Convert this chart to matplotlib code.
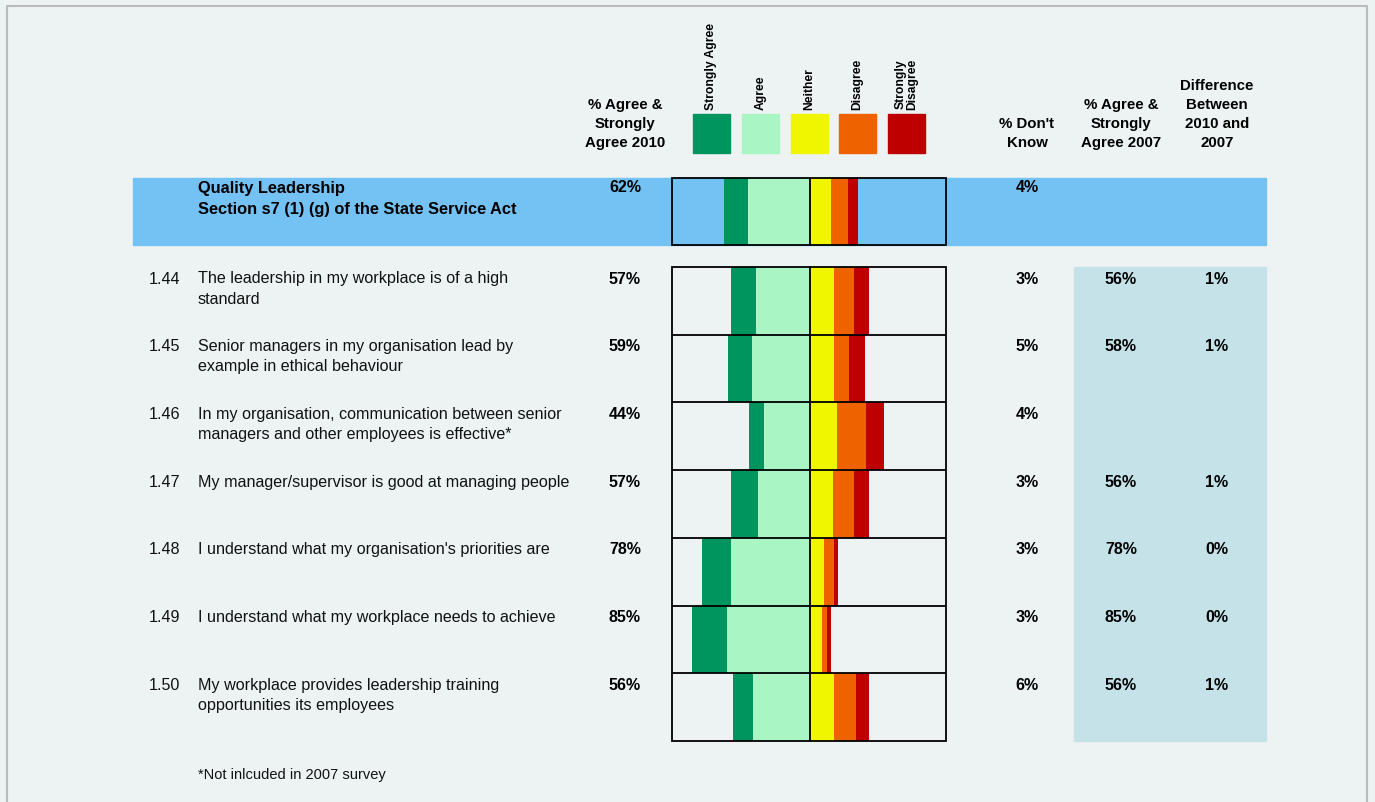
import matplotlib
matplotlib.use("Agg")
import matplotlib.pyplot as plt
from matplotlib.patches import Rectangle
import matplotlib.transforms as mtransforms

plt.rcParams['font.family'] = ['Liberation Sans', 'DejaVu Sans']

# Data
section_title = "Quality Leadership\nSection s7 (1) (g) of the State Service Act"
section_agree_2010 = 62
section_dont_know = 4
section_parts = [17, 45, 15, 12, 7]  # SA, A, N, D, SD

codes = ["1.44", "1.45", "1.46", "1.47", "1.48", "1.49", "1.50"]
questions = [
    "The leadership in my workplace is of a high\nstandard",
    "Senior managers in my organisation lead by\nexample in ethical behaviour",
    "In my organisation, communication between senior\nmanagers and other employees is effective*",
    "My manager/supervisor is good at managing people",
    "I understand what my organisation's priorities are",
    "I understand what my workplace needs to achieve",
    "My workplace provides leadership training\nopportunities its employees",
]
agree_2010 = [57, 59, 44, 57, 78, 85, 56]
dont_know = [3, 5, 4, 3, 3, 3, 6]
agree_2007 = [56, 58, None, 56, 78, 85, 56]
difference = [1, 1, None, 1, 0, 0, 1]

strongly_agree = [18, 17, 11, 19, 21, 25, 15]
agree = [39, 42, 33, 38, 57, 60, 41]
neither = [17, 17, 19, 16, 10, 8, 17]
disagree = [14, 11, 21, 15, 7, 4, 16]
strongly_disagree = [11, 11, 13, 11, 3, 3, 9]

legend_labels = ["Strongly Agree", "Agree", "Neither", "Disagree", "Strongly\nDisagree"]
colors = ["#00955F", "#A9F5C4", "#F0F500", "#EE6200", "#BE0000"]
footnote = "*Not inlcuded in 2007 survey"

# Layout (pixels)
W, H = 1375, 802
bg = "#EDF3F3"
box_left, box_right = 672, 946
head_top, head_bot = 178, 245
rows_top, rows_bot = 267, 741
row_h = (rows_bot - rows_top) / len(codes)

fig = plt.figure(figsize=(W / 100, H / 100), dpi=100)
fig.patch.set_facecolor(bg)

# page axes in pixel coordinates
pg = fig.add_axes([0, 0, 1, 1])
pg.set_xlim(0, W)
pg.set_ylim(H, 0)
pg.axis("off")

# page border
pg.plot([7, 7, 1367, 1367], [H, 6, 6, H], color="#BBBBBB", lw=1.5)

# section band and 2007 panel
pg.add_patch(Rectangle((133, head_top), 1266 - 133, head_bot - head_top, color="#74C1F3", zorder=1))
pg.add_patch(Rectangle((1074, rows_top), 1266 - 1074, rows_bot - rows_top, color="#C5E2E8", zorder=1))

fs_head = 10.8
fs_row = 11.6
fs_val = 11.5
ls_head = 1.46
ls_row = 1.43

# column headers
pg.text(625, 124, "% Agree &\nStrongly\nAgree 2010", ha="center", va="center", fontsize=fs_head,
        fontweight="bold", linespacing=ls_head)
pg.text(1027, 133.5, "% Don't\nKnow", ha="center", va="center", fontsize=fs_head,
        fontweight="bold", linespacing=ls_head)
pg.text(1121, 124, "% Agree &\nStrongly\nAgree 2007", ha="center", va="center", fontsize=fs_head,
        fontweight="bold", linespacing=ls_head)
pg.text(1217, 114.5, "Difference\nBetween\n2010 and\n2007", ha="center", va="center", fontsize=fs_head,
        fontweight="bold", linespacing=ls_head)

# legend swatches
sw_x = [693, 742, 791, 839, 888]
for x, c, lab in zip(sw_x, colors, legend_labels):
    pg.add_patch(Rectangle((x, 114), 37, 39, color=c, zorder=2))
    pg.text(x + 18.5, 110, lab, rotation=90, ha="center", va="bottom", fontsize=8.7,
            fontweight="bold", linespacing=1.0)

# section row text
pg.text(198, 199, section_title, ha="left", va="center", fontsize=11.8, fontweight="bold",
        linespacing=1.46, zorder=3)
pg.text(625, 188, f"{section_agree_2010}%", ha="center", va="center", fontsize=fs_val,
        fontweight="bold", zorder=3)
pg.text(1027, 188, f"{section_dont_know}%", ha="center", va="center", fontsize=fs_val,
        fontweight="bold", zorder=3)

# question rows text
for i, code in enumerate(codes):
    y = rows_top + i * row_h + 12
    pg.text(149, y, code, ha="left", va="center", fontsize=fs_row, color="#111111")
    n_lines = questions[i].count("\n") + 1
    pg.text(198, y + (n_lines - 1) * 10, questions[i], ha="left", va="center", fontsize=fs_row,
            color="#111111", linespacing=ls_row)
    pg.text(625, y, f"{agree_2010[i]}%", ha="center", va="center", fontsize=fs_val, fontweight="bold")
    pg.text(1027, y, f"{dont_know[i]}%", ha="center", va="center", fontsize=fs_val, fontweight="bold")
    if agree_2007[i] is not None:
        pg.text(1121, y, f"{agree_2007[i]}%", ha="center", va="center", fontsize=fs_val, fontweight="bold")
        pg.text(1217, y, f"{difference[i]}%", ha="center", va="center", fontsize=fs_val, fontweight="bold")

pg.text(198, 775, footnote, ha="left", va="center", fontsize=10.5, color="#111111")

# diverging bars
ax = fig.add_axes([box_left / W, (H - rows_bot) / H, (box_right - box_left) / W,
                   (rows_bot - head_top) / H])
ax.set_xlim(-99.5, 97.5)
ax.set_ylim(rows_bot, head_top)
ax.axis("off")
ax.patch.set_alpha(0)


def draw_row(yc, h, parts):
    sa, a, n, d, sd = parts
    ax.barh(yc, sa, left=-(sa + a), height=h, color=colors[0], lw=0)
    ax.barh(yc, a, left=-a, height=h, color=colors[1], lw=0)
    ax.barh(yc, n, left=0, height=h, color=colors[2], lw=0)
    ax.barh(yc, d, left=n, height=h, color=colors[3], lw=0)
    ax.barh(yc, sd, left=n + d, height=h, color=colors[4], lw=0)


draw_row((head_top + head_bot) / 2, head_bot - head_top, section_parts)
for i in range(len(codes)):
    parts = [strongly_agree[i], agree[i], neither[i], disagree[i], strongly_disagree[i]]
    draw_row(rows_top + (i + 0.5) * row_h, row_h, parts)

# box outlines
trans = mtransforms.blended_transform_factory(ax.transAxes, ax.transData)
for top, bot in [(head_top, head_bot), (rows_top, rows_bot)]:
    ax.add_patch(Rectangle((0, top), 1, bot - top, transform=trans, fill=False,
                           edgecolor="black", lw=1.3, clip_on=False, zorder=5))
    ax.plot([0, 0], [top, bot], color="black", lw=1.3, zorder=5)
for i in range(1, len(codes)):
    yy = rows_top + i * row_h
    ax.plot([0, 1], [yy, yy], transform=trans, color="black", lw=1.3, zorder=5)

fig.savefig("out.png", dpi=100, facecolor=bg)
